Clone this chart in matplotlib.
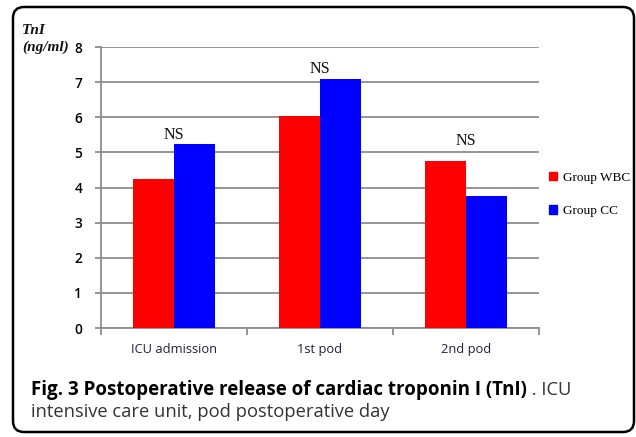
import numpy as np
import matplotlib.pyplot as plt
from matplotlib.patches import FancyBboxPatch, Patch
from matplotlib.transforms import IdentityTransform

categories = ['ICU admission', '1st pod', '2nd pod']
wbc = [4.25, 6.05, 4.75]
cc = [5.25, 7.1, 3.75]
sig = ['NS', 'NS', 'NS']
sig_y = [5.38, 7.26, 5.21]
series_names = ['Group WBC', 'Group CC']

fig = plt.figure(figsize=(6.36, 4.37), dpi=100)
ax = fig.add_axes([0.1588, 0.2494, 0.6887, 0.643])

x = np.arange(len(categories))
w = 0.28
ax.bar(x - w/2, wbc, w, color='#ff0000', zorder=3)
ax.bar(x + w/2, cc, w, color='#0000ff', zorder=3)

for i, s in enumerate(sig):
    ax.text(x[i], sig_y[i], s, ha='center', va='baseline',
            fontsize=11.5, fontfamily='Liberation Serif', color='#111111')

ax.set_xlim(-0.5, 2.5)
ax.set_ylim(0, 8)
ax.set_yticks(range(0, 9))
ax.yaxis.grid(True, color='#8c8c8c', lw=1.3, zorder=0)
ax.set_xticks([])
ax.set_xticks([-0.5, 0.5, 1.5, 2.5], minor=True)
ax.tick_params(axis='x', which='minor', length=5, color='#8c8c8c', width=1.3)
ax.tick_params(axis='y', length=4.5, color='#8c8c8c', width=1.3, labelsize=9.8,
               pad=9)
for lab in ax.get_yticklabels():
    lab.set_fontfamily('Open Sans')
    lab.set_fontweight('semibold')
for sp in ['top', 'right']:
    ax.spines[sp].set_visible(False)
for sp in ['left', 'bottom']:
    ax.spines[sp].set_color('#8c8c8c')
    ax.spines[sp].set_linewidth(1.3)

for i, c in enumerate(categories):
    ax.text(x[i], -0.6, c, ha='center', va='center', fontsize=9.3,
            fontfamily='Open Sans', color='#202040')

fig.text(0.035, 0.911, 'TnI\n(ng/ml)', ha='left', va='center', style='italic',
         fontweight='bold', fontfamily='Liberation Serif', fontsize=11,
         linespacing=1.3, color='#111111')

handles = [Patch(color='#ff0000'), Patch(color='#0000ff')]
fig.legend(handles, series_names, loc='center left', bbox_to_anchor=(0.863, 0.555),
           frameon=False, borderaxespad=0, borderpad=0,
           handlelength=0.6, handleheight=0.6, labelspacing=1.6,
           handletextpad=0.45, prop={'family': 'Liberation Serif', 'size': 9.5})

box = FancyBboxPatch((13, 5), 621, 425, transform=IdentityTransform(),
                     boxstyle='round,pad=0,rounding_size=11', fill=False,
                     ec='black', lw=1.8)
fig.patches.append(box)

t1 = fig.text(0.049, 0.107, 'Fig. 3 Postoperative release of cardiac troponin I (TnI)',
              fontweight='bold', fontfamily='Open Sans', fontsize=13.5,
              va='center', ha='left')
fig.canvas.draw()
bb = t1.get_window_extent(fig.canvas.get_renderer())
fig.text(bb.x1 / fig.bbox.width, 0.107, ' . ICU', fontfamily='Open Sans',
         fontsize=13.2, va='center', ha='left', color='#333333')
fig.text(0.049, 0.057, 'intensive care unit, pod postoperative day',
         fontfamily='Open Sans', fontsize=13.2, va='center', ha='left',
         color='#333333')

fig.savefig('out.png', dpi=100)
